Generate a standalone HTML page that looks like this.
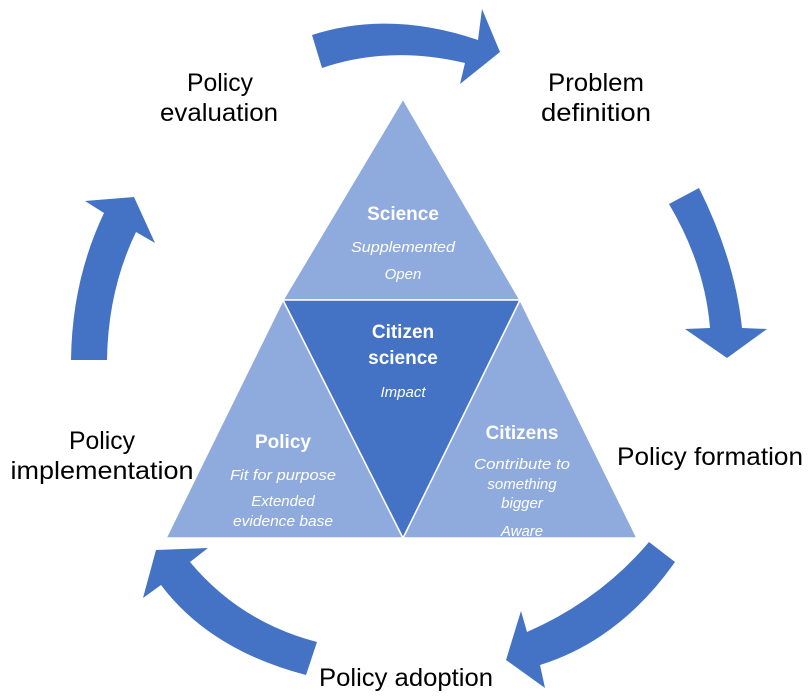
<!DOCTYPE html>
<html><head><meta charset="utf-8"><style>
html,body{margin:0;padding:0;background:#fff}
svg{display:block}
text{font-family:"Liberation Sans",sans-serif}
.l{font-size:25px;fill:#000}
.b{font-size:19px;font-weight:bold;fill:#fff}
.i{font-size:15px;font-style:italic;fill:#fff}
</style></head><body>
<svg width="810" height="696" viewBox="0 0 810 696" xmlns="http://www.w3.org/2000/svg">
<g fill="#4472c4">
<path d="M312,35 Q390,10 478,40 L482,9 L500,52 L460,84 L465,63 Q390,45 322,68 Z"/>
<path d="M699,188 Q735,260 742,328 L767,329 L727,358 L685,329 L710,328 Q705,265 669,204 Z"/>
<path d="M649,542 L675,562 Q620,640 540,665 L545,688 L506,660 L521,611 L527,632 Q600,600 649,542 Z"/>
<path d="M317,642 L306,675 Q210,650 161,585 L143,598 L156,550 L208,548 L190,562 Q240,622 317,642 Z"/>
<path d="M71,360 L107,360 Q108,290 136,232 L155,243 L134,197 L85,201 L104,213 Q72,280 71,360 Z"/>
</g>
<g stroke="#fff" stroke-width="1.5">
<polygon points="403,99 520,300 283,300" fill="#8faadc"/>
<polygon points="283,300 403,538 166,538" fill="#8faadc"/>
<polygon points="520,300 637,538 403,538" fill="#8faadc"/>
<polygon points="283,300 520,300 403,538" fill="#4472c4"/>
</g>
<g text-anchor="middle">
<text class="l" x="220" y="91" textLength="66" lengthAdjust="spacingAndGlyphs">Policy</text>
<text class="l" x="219" y="121" textLength="118" lengthAdjust="spacingAndGlyphs">evaluation</text>
<text class="l" x="596" y="91" textLength="96" lengthAdjust="spacingAndGlyphs">Problem</text>
<text class="l" x="596" y="121" textLength="110" lengthAdjust="spacingAndGlyphs">definition</text>
<text class="l" x="102" y="449" textLength="66" lengthAdjust="spacingAndGlyphs">Policy</text>
<text class="l" x="102" y="479" textLength="183" lengthAdjust="spacingAndGlyphs">implementation</text>
<text class="l" x="710" y="465" textLength="186" lengthAdjust="spacingAndGlyphs">Policy formation</text>
<text class="l" x="406" y="686" textLength="174" lengthAdjust="spacingAndGlyphs">Policy adoption</text>
<text class="b" x="403" y="220">Science</text>
<text class="i" x="403" y="252" textLength="104" lengthAdjust="spacingAndGlyphs">Supplemented</text>
<text class="i" x="403" y="279">Open</text>
<text class="b" x="403" y="338">Citizen</text>
<text class="b" x="403" y="364">science</text>
<text class="i" x="403" y="397">Impact</text>
<text class="b" x="283" y="448">Policy</text>
<text class="i" x="283" y="480" textLength="106" lengthAdjust="spacingAndGlyphs">Fit for purpose</text>
<text class="i" x="283" y="506">Extended</text>
<text class="i" x="283" y="526" textLength="100" lengthAdjust="spacingAndGlyphs">evidence base</text>
<text class="b" x="522" y="439">Citizens</text>
<text class="i" x="522" y="469" textLength="96" lengthAdjust="spacingAndGlyphs">Contribute to</text>
<text class="i" x="522" y="489">something</text>
<text class="i" x="522" y="508">bigger</text>
<text class="i" x="522" y="536">Aware</text>
</g>
</svg>
</body></html>
